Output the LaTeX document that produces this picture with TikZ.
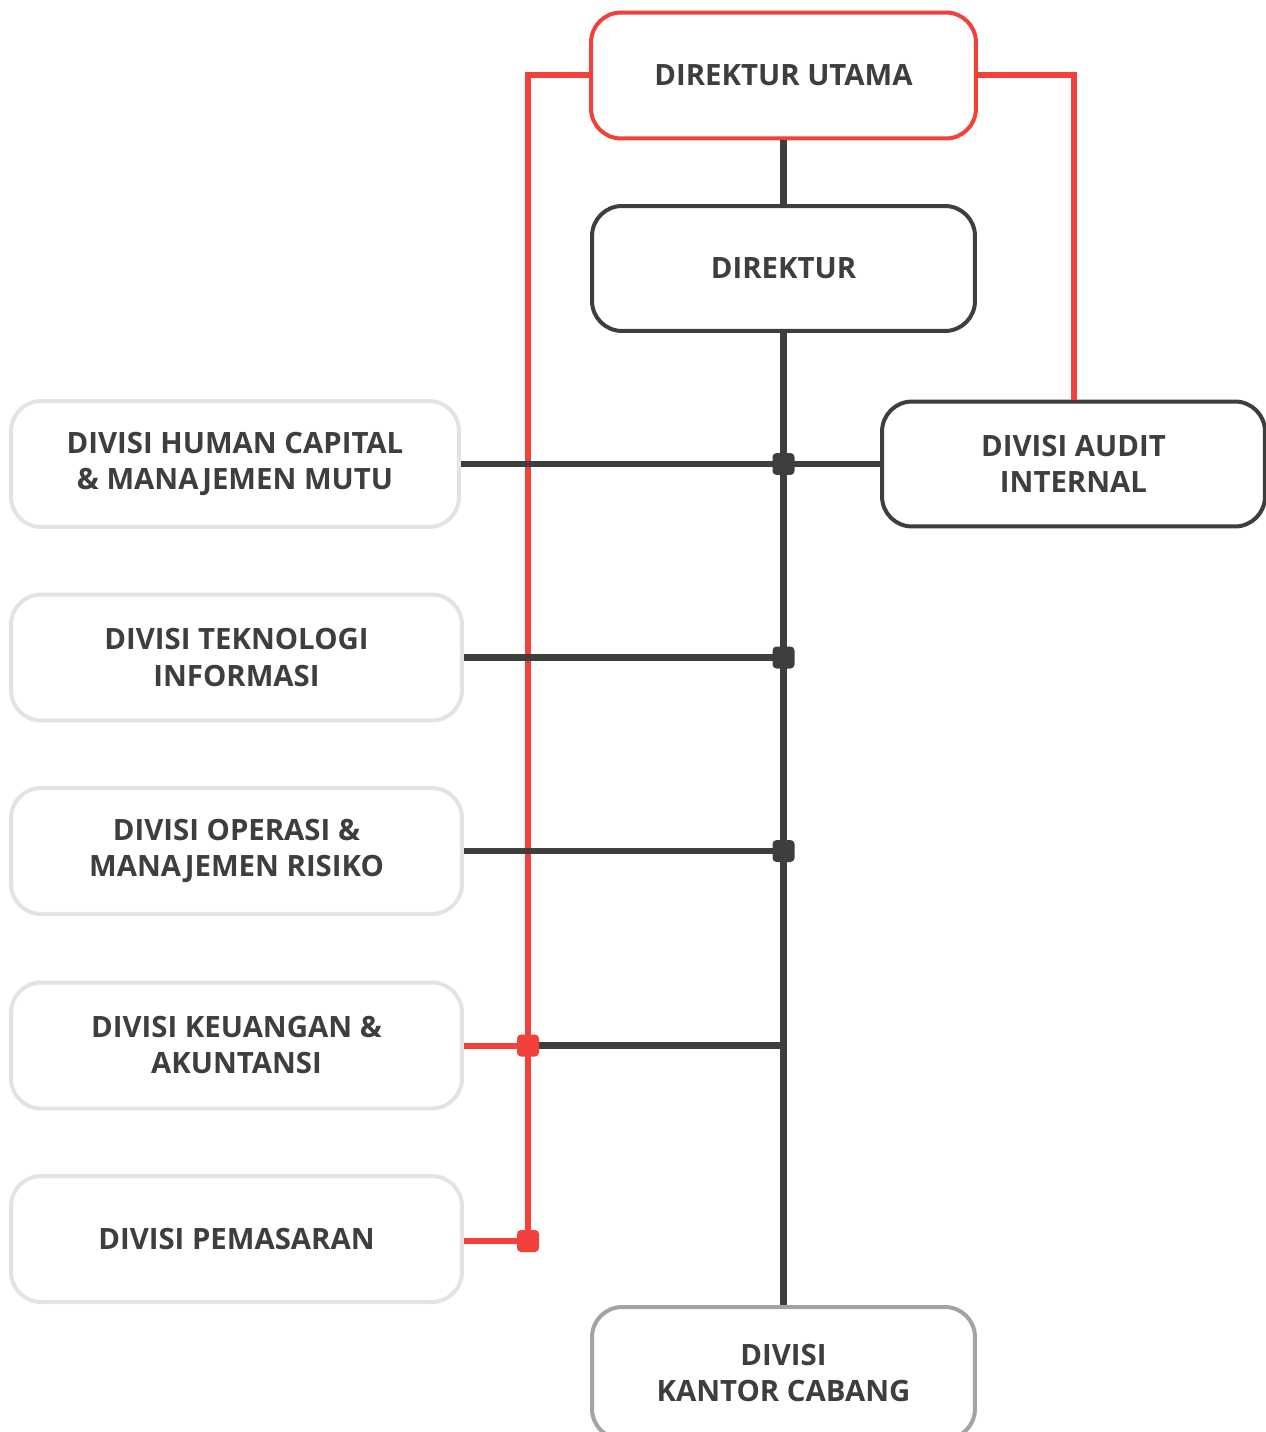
\documentclass[tikz,border=0pt]{standalone}
\usepackage{fontspec}
\setmainfont{Open Sans}
\usetikzlibrary{positioning}
\definecolor{orgred}{HTML}{F2403A}
\definecolor{orgdark}{HTML}{3D3F3E}
\definecolor{orglight}{HTML}{E3E3E3}
\definecolor{orggray}{HTML}{A3A3A3}
\tikzset{
  orgbox/.style={draw, line width=0.08cm, rounded corners=0.6cm, fill=white,
    align=center, text=orgdark, inner sep=0pt,
    font=\fontsize{16.7}{20.5}\selectfont\bfseries},
  topbox/.style={orgbox, draw=orgred, minimum width=7.7cm, minimum height=2.52cm},
  midbox/.style={orgbox, draw=orgdark, minimum width=7.66cm, minimum height=2.5cm},
  sidebox/.style={orgbox, draw=orglight, minimum width=9.02cm, minimum height=2.52cm},
  cabbox/.style={orgbox, draw=orggray, minimum width=7.66cm, minimum height=2.64cm},
  darkline/.style={draw=orgdark, line width=0.13cm},
  redline/.style={draw=orgred, line width=0.12cm},
  darkjoint/.style={fill=orgdark, rounded corners=0.08cm, minimum size=0.44cm, inner sep=0pt},
  redjoint/.style={fill=orgred, rounded corners=0.08cm, minimum size=0.44cm, inner sep=0pt}
}

\begin{document}
\begin{tikzpicture}[x=0.02cm, y=-0.02cm]
    \useasboundingbox (0,0) rectangle (1266,1432);

    \node[topbox] (utama) at (783.5,75.5) {DIREKTUR UTAMA};
    \node[midbox] (direktur) at (783.5,268.5) {DIREKTUR};
    \node[midbox] (audit) at (1073.5,464) {DIVISI AUDIT\\INTERNAL};
    \node[sidebox, minimum width=8.96cm] (human) at (235,464) {DIVISI HUMAN CAPITAL\\\& MANAJEMEN MUTU};
    \node[sidebox] (tekno) at (236.5,657.5) {DIVISI TEKNOLOGI\\INFORMASI};
    \node[sidebox] (operasi) at (236.5,851) {DIVISI OPERASI \&\\MANAJEMEN RISIKO};
    \node[sidebox] (keuangan) at (236.5,1045.5) {DIVISI KEUANGAN \&\\AKUNTANSI};
    \node[sidebox] (pemasaran) at (236.5,1239) {DIVISI PEMASARAN};
    \node[cabbox] (cabang) at (783.5,1373) {DIVISI\\KANTOR CABANG};

    \coordinate (jhuman) at (direktur.south |- human.east);
    \coordinate (jtekno) at (direktur.south |- tekno.east);
    \coordinate (joperasi) at (direktur.south |- operasi.east);
    \coordinate (jkeu) at (direktur.south |- keuangan.east);
    \coordinate (rkeu) at (528,1045.5);
    \coordinate (rpemasaran) at (528,1241);

    \draw[redline] (utama.west) -| (rpemasaran);
    \draw[redline] (utama.east) -| (audit.north);
    \draw[redline] (keuangan.east) -- (rkeu);
    \draw[redline] (pemasaran.east |- rpemasaran) -- (rpemasaran);

    \draw[darkline] (utama.south) -- (direktur.north);
    \draw[darkline] (direktur.south) -- (cabang.north);
    \draw[darkline] (human.east) -- (audit.west);
    \draw[darkline] (tekno.east) -- (jtekno);
    \draw[darkline] (operasi.east) -- (joperasi);
    \draw[darkline] (rkeu) -- (jkeu);

    \node[darkjoint] (j1) at (jhuman) {};
    \node[darkjoint] (j2) at (jtekno) {};
    \node[darkjoint] (j3) at (joperasi) {};
    \node[redjoint] (r1) at (rkeu) {};
    \node[redjoint] (r2) at (rpemasaran) {};
\end{tikzpicture}
\end{document}
